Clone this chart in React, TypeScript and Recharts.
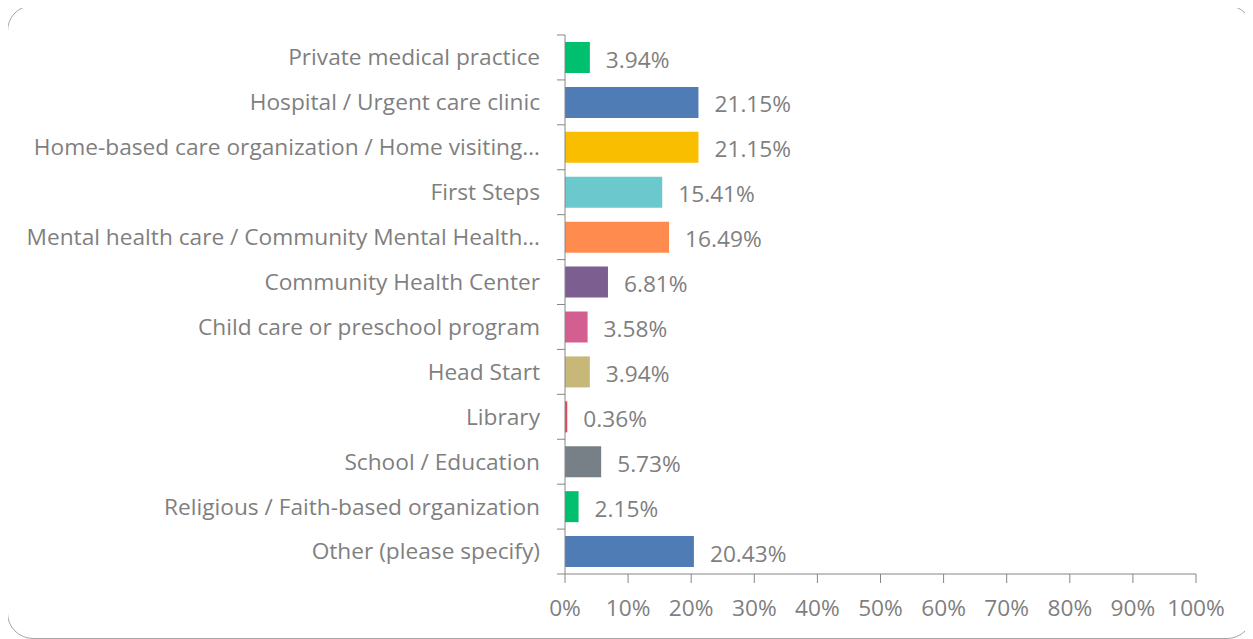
import React from 'react';
import { BarChart, Bar, XAxis, YAxis, Cell, LabelList } from 'recharts';

const categories = [
  'Private medical practice',
  'Hospital / Urgent care clinic',
  'Home-based care organization / Home visiting…',
  'First Steps',
  'Mental health care / Community Mental Health…',
  'Community Health Center',
  'Child care or preschool program',
  'Head Start',
  'Library',
  'School / Education',
  'Religious / Faith-based organization',
  'Other (please specify)',
];

const values = [3.94, 21.15, 21.15, 15.41, 16.49, 6.81, 3.58, 3.94, 0.36, 5.73, 2.15, 20.43];

const barColors = [
  '#00bf6f',
  '#507cb6',
  '#f9be00',
  '#6bc8cd',
  '#ff8b4f',
  '#7d5e90',
  '#d25f90',
  '#c7b879',
  '#db4d5c',
  '#768086',
  '#00bf6f',
  '#507cb6',
];

const xTicks = [0, 10, 20, 30, 40, 50, 60, 70, 80, 90, 100];

const CHART_W = 1253;
const CHART_H = 639;
const MARGIN = { top: 35, right: 57, bottom: 0, left: 0 };
const X_AXIS_H = 65;
const Y_TICK_SIZE = 8;
const Y_TICK_MARGIN = 17;
const FONT_SIZE = 22.7;
const TEXT_COLOR = '#7f7f7f';
const AXIS_COLOR = '#868686';

const bandSize = (CHART_H - MARGIN.top - MARGIN.bottom - X_AXIS_H) / categories.length;

// category ticks sit between the bars, like Excel does it
const CategoryTick = (props: any) => {
  const { x, y, payload, index } = props;
  const axisX = x + Y_TICK_SIZE + Y_TICK_MARGIN;
  return (
    <g>
      <line x1={axisX - Y_TICK_SIZE} x2={axisX} y1={y - bandSize / 2} y2={y - bandSize / 2} stroke={AXIS_COLOR} />
      {index === categories.length - 1 && (
        <line x1={axisX - Y_TICK_SIZE} x2={axisX} y1={y + bandSize / 2} y2={y + bandSize / 2} stroke={AXIS_COLOR} />
      )}
      <text x={x} y={y} dy="0.35em" textAnchor="end" fill={TEXT_COLOR} fontSize={FONT_SIZE}>
        {payload.value}
      </text>
    </g>
  );
};

export default function App() {
  const data = categories.map((name, i) => ({ name, value: values[i] }));

  return (
    <div
      style={{
        position: 'relative',
        width: CHART_W,
        height: CHART_H,
        margin: '-8px 0 0 -8px',
        fontFamily: '"Open Sans", sans-serif',
        background: '#fff',
      }}
    >
      <div
        style={{
          position: 'absolute',
          left: 7,
          top: 5,
          width: 1246,
          height: 634,
          boxSizing: 'border-box',
          border: '1.5px solid #a6a6a6',
          borderRadius: 26,
        }}
      />
      <div style={{ position: 'absolute', left: 0, top: 0 }}>
        <BarChart width={CHART_W} height={CHART_H} layout="vertical" data={data} margin={MARGIN}>
          <XAxis
            type="number"
            domain={[0, 100]}
            ticks={xTicks}
            interval={0}
            tickFormatter={(v: number) => `${v}%`}
            height={X_AXIS_H}
            tickSize={9}
            tickMargin={17}
            axisLine={{ stroke: AXIS_COLOR }}
            tickLine={{ stroke: AXIS_COLOR }}
            tick={{ fill: TEXT_COLOR, fontSize: FONT_SIZE }}
          />
          <YAxis
            type="category"
            dataKey="name"
            width={565}
            interval={0}
            tickSize={Y_TICK_SIZE}
            tickMargin={Y_TICK_MARGIN}
            tickLine={false}
            axisLine={{ stroke: AXIS_COLOR }}
            tick={<CategoryTick />}
          />
          <Bar dataKey="value" barSize={31} isAnimationActive={false}>
            {data.map((d, i) => (
              <Cell key={d.name} fill={barColors[i]} />
            ))}
            <LabelList
              dataKey="value"
              position="right"
              offset={16}
              dy={2}
              formatter={(v: any) => `${Number(v).toFixed(2)}%`}
              fill={TEXT_COLOR}
              fontSize={FONT_SIZE}
            />
          </Bar>
        </BarChart>
      </div>
    </div>
  );
}
